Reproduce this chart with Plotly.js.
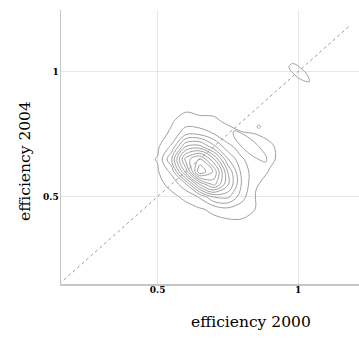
<!DOCTYPE html>
<html>
<head>
<meta charset="utf-8">
<script src="https://cdn.plot.ly/plotly-3.0.1.min.js"></script>
<style>
  html, body { margin: 0; padding: 0; background: #ffffff; }
  #chart { width: 359px; height: 340px; }
</style>
</head>
<body>
<div id="chart"></div>
<script>
// Joint density of efficiency scores, 2000 (x) against 2004 (y)
const effGridX = [0.45, 0.50, 0.55, 0.60, 0.65, 0.70, 0.75, 0.80, 0.85, 0.90, 0.95, 1.00];
const effGridY = [0.35, 0.40, 0.45, 0.50, 0.55, 0.60, 0.65, 0.70, 0.75, 0.80, 0.85, 0.90, 0.95];
const densityMain = [
  [0,   0,   0,   0.1, 0.1,   0.1,  0.1,  0.2,  0.2, 0.1, 0,   0  ],
  [0,   0.1, 0.2, 0.3, 0.4,   0.5,  1.1,  1.7,  1.0, 0.3, 0,   0  ],
  [0,   0.2, 0.6, 1.1, 2.0,   5.2,  9.7,  7.6,  2.7, 0.6, 0.1, 0  ],
  [0.1, 0.6, 1.7, 4.3, 13.5,  31.5, 32.6, 15.5, 2.5, 0.9, 0.1, 0  ],
  [0.3, 1.3, 4.8, 19.7, 58.4, 79.1, 49.9, 19.7, 3.5, 1.2, 0.2, 0  ],
  [0.5, 2.0, 14.7, 60.0, 109.8, 91.7, 47.8, 17.5, 6.3, 2.5, 0.7, 0.1],
  [0.7, 3.5, 29.7, 78.7, 95.0, 67.5, 30.7, 12.8, 7.8, 4.1, 1.2, 0.2],
  [0.9, 1.5, 14.0, 48.2, 51.3, 32.9, 14.5, 8.0,  6.6, 3.8, 1.1, 0.2],
  [0.8, 1.0, 4.0, 19.7, 19.5,  12.2, 5.7,  3.5,  3.0, 1.8, 0.5, 0.1],
  [0.4, 0.5, 2.5, 6.3, 4.0,    4.2,  2.0,  1.0,  0.8, 0.4, 0.1, 0  ],
  [0.1, 0.4, 1.1, 1.9, 2.0,    1.4,  0.6,  0.2,  0,   0,   0,   0  ],
  [0,   0.1, 0.3, 0.5, 0.6,    0.4,  0.2,  0,    0,   0,   0,   0  ],
  [0,   0,   0,   0,   0,      0,    0,    0,    0,   0,   0,   0  ]
];

// Secondary mode above the main cluster (closed at level 0)
const sideGridX = [0.74, 0.76, 0.78, 0.80, 0.82, 0.84, 0.86, 0.88, 0.90, 0.92];
const sideGridY = [0.60, 0.62, 0.64, 0.66, 0.68, 0.70, 0.72, 0.74, 0.76, 0.78, 0.80];
const densitySide = [
  [-1,   -1,    -1,    -1,    -1,    -1,    -1,    -1,    -1,    -1   ],
  [-1,   -1,    -1,    -1,    -1,    -1,    -1,    -0.99, -0.58, -0.99],
  [-1,   -1,    -1,    -1,    -1,    -1,    -0.42, 0.10,  -0.21, -1   ],
  [-1,   -1,    -1,    -1,    -1,    -0.05, 0.57,  0.36,  -0.68, -1   ],
  [-1,   -1,    -1,    -1,    0.11,  0.84,  0.73,  -0.21, -1,    -1   ],
  [-1,   -1,    -1,    0.07,  0.90,  0.89,  0.06,  -1,    -1,    -1   ],
  [-1,   -1,    -0.18, 0.76,  0.85,  0.12,  -1,    -1,    -1,    -1   ],
  [-1,   -0.63, 0.41,  0.61,  -0.03, -1,    -1,    -1,    -1,    -1   ],
  [-1,   -0.15, 0.16,  -0.38, -1,    -1,    -1,    -1,    -1,    -1   ],
  [-0.9, -0.5,  -0.93, -1,    -1,    -1,    0.5,   -1,    -1,    -1   ],
  [-1,   -1,    -1,    -1,    -1,    -1,    -1,    -1,    -1,    -1   ]
];

// Small cluster of fully efficient units near (1, 1)
const topGridX = [0.94, 0.96, 0.98, 1.00, 1.02, 1.04, 1.06];
const topGridY = [0.94, 0.96, 0.98, 1.00, 1.02, 1.04, 1.06];
const densityTop = [
  [-1, -1,    -1,    -1,   -1,    -1,    -1],
  [-1, -1,    -1,    -1,   -0.19, 0.075, -1],
  [-1, -1,    -1,    0.27, 0.80,  -0.19, -1],
  [-1, -1,    0.20,  1.00, 0.27,  -1,    -1],
  [-1, -0.39, 0.67,  0.20, -1,    -1,    -1],
  [-1, -0.19, -0.39, -1,   -1,    -1,    -1],
  [-1, -1,    -1,    -1,   -1,    -1,    -1]
];

// 45-degree reference line (equal efficiency in both years)
const diagonal = [0.15, 1.18];

const tickValues = [0.5, 1];
const tickLabels = ['0.5', '1'];

const lineGrey = '#a0a0a0';

const traces = [
  {
    type: 'contour', x: effGridX, y: effGridY, z: densityMain,
    autocontour: false,
    contours: { start: 3, end: 102, size: 9, coloring: 'none' },
    line: { color: lineGrey, width: 1, smoothing: 1 },
    showscale: false, hoverinfo: 'skip'
  },
  {
    type: 'contour', x: sideGridX, y: sideGridY, z: densitySide,
    autocontour: false,
    contours: { start: 0, end: 0.5, size: 1, coloring: 'none' },
    line: { color: lineGrey, width: 1, smoothing: 1 },
    showscale: false, hoverinfo: 'skip'
  },
  {
    type: 'contour', x: topGridX, y: topGridY, z: densityTop,
    autocontour: false,
    contours: { start: 0, end: 0.5, size: 1, coloring: 'none' },
    line: { color: lineGrey, width: 1, smoothing: 1 },
    showscale: false, hoverinfo: 'skip'
  },
  {
    type: 'scatter', mode: 'lines', x: diagonal, y: diagonal,
    line: { color: '#9a9a9a', width: 1, dash: 'dot' },
    hoverinfo: 'skip'
  }
];

const axisCommon = {
  tickvals: tickValues,
  ticktext: tickLabels,
  showgrid: true,
  gridcolor: '#e6e6e6',
  gridwidth: 1,
  zeroline: false,
  showline: true,
  linecolor: '#c6c6c6',
  linewidth: 1.5,
  ticks: '',
  tickfont: { family: 'DejaVu Serif', size: 9, weight: 'bold', color: '#000000' },
  fixedrange: true
};

const layout = {
  width: 359,
  height: 340,
  margin: { l: 61, r: 0, t: 10, b: 56 },
  paper_bgcolor: '#ffffff',
  plot_bgcolor: '#ffffff',
  showlegend: false,
  xaxis: Object.assign({}, axisCommon, { range: [0.156, 1.217], ticklabelstandoff: -3 }),
  yaxis: Object.assign({}, axisCommon, { range: [0.15, 1.247], ticklabelstandoff: -1 }),
  annotations: [
    {
      text: 'efficiency 2000', xref: 'paper', yref: 'paper',
      x: 0.638, y: -0.139, xanchor: 'center', yanchor: 'middle',
      showarrow: false,
      font: { family: 'DejaVu Serif', size: 15.5, color: '#000000' }
    },
    {
      text: 'efficiency 2004', xref: 'paper', yref: 'paper',
      x: -0.121, y: 0.449, xanchor: 'center', yanchor: 'middle',
      textangle: -90, showarrow: false,
      font: { family: 'DejaVu Serif', size: 15.5, color: '#000000' }
    }
  ]
};

Plotly.newPlot('chart', traces, layout, { displayModeBar: false, staticPlot: true });
</script>
</body>
</html>
